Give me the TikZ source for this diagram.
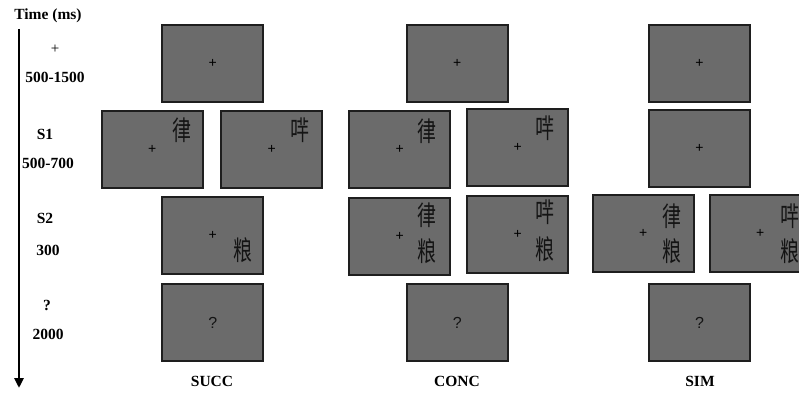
\documentclass[tikz,border=0pt]{standalone}
\usepackage{fontspec}
\setmainfont{Liberation Serif}
\newfontfamily\cjk{Noto Sans CJK SC}
\newfontfamily\plainsans{Liberation Sans}
\usetikzlibrary{arrows.meta}
\definecolor{screengray}{RGB}{107,107,107}
\definecolor{screenline}{RGB}{30,30,30}

\begin{document}
\begin{tikzpicture}[x=1pt,y=-1pt]
            \tikzstyle{screen}=[rectangle, minimum width=101pt, minimum height=77pt, inner sep=0pt, line width=1.8pt, draw=screenline, fill=screengray, font=\plainsans\fontsize{14}{14}\selectfont]
            \tikzstyle{quest}=[screen, font=\plainsans\fontsize{16}{16}\selectfont, text=black!92]
            \tikzstyle{chr}=[inner sep=0pt, font=\cjk\fontsize{27}{27}\selectfont, text=black!92, xscale=0.7, transform shape]
            \tikzstyle{lbl}=[inner sep=0pt, font=\bfseries\fontsize{15.5}{15.5}\selectfont]
            \tikzstyle{timeline}=[line width=2.6pt, -{Triangle[width=9pt,length=10pt]}]
            \useasboundingbox (0,0) rectangle (799,393);
            \clip (0,0) rectangle (799,393);

            % time axis
            \node[lbl] (time) at (48,16) {Time (ms)};
            \coordinate (T0) at (19,29);
            \coordinate (T1) at (19,388);
            \draw[timeline] (T0) -- (T1);

            \node[lbl, font=\fontsize{15}{15}\selectfont] (Lfix) at (55,49) {+};
            \node[lbl] (Lfixt) at (55,77) {500-1500};
            \node[lbl] (Ls1) at (45,134) {S1};
            \node[lbl] (Ls1t) at (48,163) {500-700};
            \node[lbl] (Ls2) at (45,218) {S2};
            \node[lbl] (Ls2t) at (48,250) {300};
            \node[lbl] (Lq) at (47,305) {?};
            \node[lbl] (Lqt) at (48,334) {2000};

            % fixation
            \node[screen] (F1) at (212.7,63.5) {+};
            \node[screen] (F2) at (457.3,63.5) {+};
            \node[screen] (F3) at (699.5,63.5) {+};

            % S1
            \node[screen] (A1) at (152.3,149.3) {+};
            \node[screen] (A2) at (271.7,149.2) {+};
            \node[screen] (B1) at (399.7,149.2) {+};
            \node[screen] (B2) at (517.7,147.7) {+};
            \node[screen] (C1) at (699.5,148.5) {+};
            \node[chr] (a1) at (182,130) {律};
            \node[chr] (a2) at (300,130) {哶};
            \node[chr] (b1) at (427,131) {律};
            \node[chr] (b2) at (545,128) {哶};

            % S2
            \node[screen] (A3) at (212.7,235.7) {+};
            \node[screen] (B3) at (399.7,236.2) {+};
            \node[screen] (B4) at (517.7,234.7) {+};
            \node[screen] (C3) at (643.3,233.7) {+};
            \node[screen] (C4) at (760.2,233.7) {+};
            \node[chr] (a3) at (242.7,250) {粮};
            \node[chr] (b3) at (427,215) {律};
            \node[chr] (b3x) at (427,251.5) {粮};
            \node[chr] (b4) at (545,212.5) {哶};
            \node[chr] (b4x) at (545,249) {粮};
            \node[chr] (c3) at (672,216.5) {律};
            \node[chr] (c3x) at (672,251.5) {粮};
            \node[chr] (c4) at (790,216.5) {哶};
            \node[chr] (c4x) at (790,251.5) {粮};

            % response
            \node[quest] (Q1) at (212.7,322.5) {?};
            \node[quest] (Q2) at (457.3,322.5) {?};
            \node[quest] (Q3) at (699.5,322.5) {?};

            \node[lbl] (succ) at (212,381) {SUCC};
            \node[lbl] (conc) at (457,381) {CONC};
            \node[lbl] (sim) at (700,381) {SIM};
        \end{tikzpicture}
\end{document}
